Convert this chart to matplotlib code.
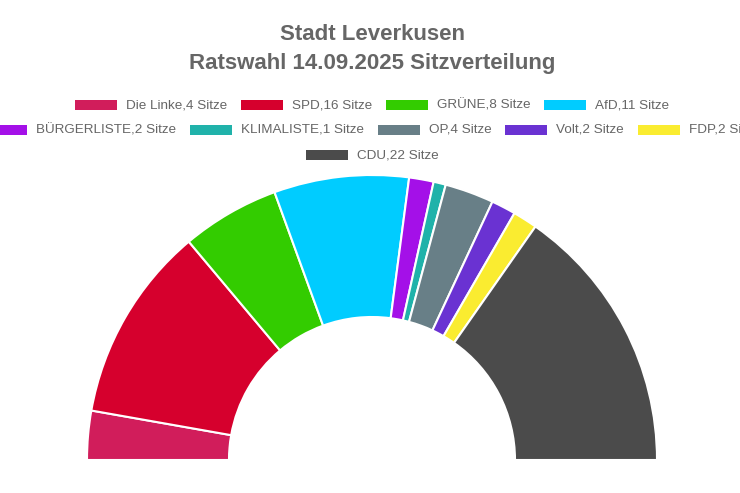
import matplotlib
matplotlib.use("Agg")
import matplotlib.pyplot as plt
from matplotlib.patches import Rectangle

# Sitzverteilung Stadtrat Leverkusen 2025
parties = ["Die Linke", "SPD", "GRÜNE", "AfD", "BÜRGERLISTE", "KLIMALISTE",
           "OP", "Volt", "FDP", "CDU"]
seats = [4, 16, 8, 11, 2, 1, 4, 2, 2, 22]
colors = ["#D11D5B", "#D6002D", "#33CC00", "#00CCFF", "#A410E8", "#20B2AA",
          "#687F87", "#6A32D2", "#FAEC30", "#4B4B4B"]
legend_rows = [[0, 1, 2, 3], [4, 5, 6, 7, 8], [9]]

W, H = 740, 493
fig = plt.figure(figsize=(W / 100, H / 100), dpi=100)
ax = fig.add_axes([0, 0, 1, 1])

# half donut: add an invisible wedge for the lower half
total = sum(seats)
ax.pie(seats + [total], colors=colors + ["none"], startangle=180,
       counterclock=False, radius=285, center=(372, H - 460),
       wedgeprops=dict(width=142, edgecolor="white", linewidth=1.5))
ax.patches[-1].set_edgecolor("none")
ax.set_xlim(0, W)
ax.set_ylim(0, H)
ax.set_aspect("auto")
ax.axis("off")

# title
fig.text(372 / W, 1 - 35 / H, "Stadt Leverkusen", ha="center", va="center",
         fontsize=16, fontweight="bold", color="#666666", family="Liberation Sans")
fig.text(372 / W, 1 - 63 / H, "Ratswahl 14.09.2025 Sitzverteilung", ha="center",
         va="center", fontsize=16, fontweight="bold", color="#666666",
         family="Liberation Sans")

# legend, laid out by hand (rows overflow like the original)
renderer = fig.canvas.get_renderer()
box_w, box_h, gap_txt, gap_item = 42, 10, 9, 14
row_y = [105, 130, 155]
for r, idx in enumerate(legend_rows):
    labels = [f"{parties[i]},{seats[i]} Sitze" for i in idx]
    texts = [fig.text(0, 0, s, fontsize=9.7, color="#666666", family="Liberation Sans",
                      va="center") for s in labels]
    widths = [t.get_window_extent(renderer).width for t in texts]
    row_w = sum(box_w + gap_txt + w for w in widths) + gap_item * (len(idx) - 1)
    x = 372 - row_w / 2
    y = H - row_y[r]
    for t, w, i in zip(texts, widths, idx):
        fig.patches.append(Rectangle((x / W, (y - box_h / 2) / H), box_w / W, box_h / H,
                                     transform=fig.transFigure, facecolor=colors[i],
                                     edgecolor="none"))
        t.set_position(((x + box_w + gap_txt) / W, y / H))
        x += box_w + gap_txt + w + gap_item

fig.savefig("out.png", dpi=100)
